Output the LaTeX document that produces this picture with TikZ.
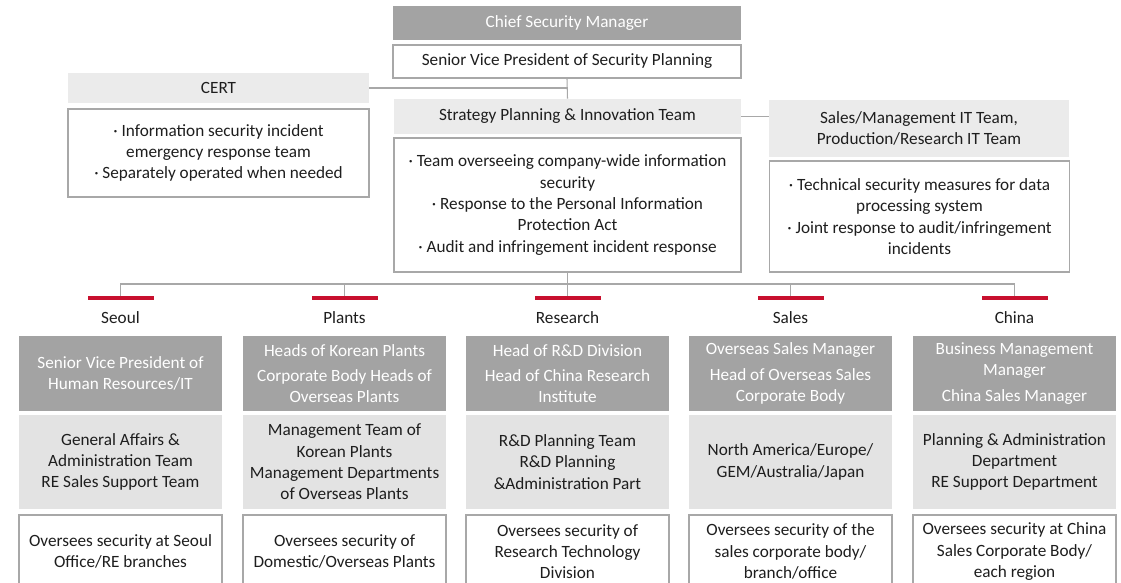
\documentclass[tikz,border=0pt]{standalone}
\usepackage{fontspec}
\setmainfont{Carlito}
\definecolor{darkg}{HTML}{A3A3A3}
\definecolor{lightg}{HTML}{E3E3E3}
\definecolor{headg}{HTML}{EBEBEB}
\definecolor{lineg}{HTML}{A8A8A8}
\definecolor{redbar}{HTML}{C8102E}
\definecolor{txt}{HTML}{1E1E1E}
\begin{document}
\begin{tikzpicture}[x=0.75pt,y=-0.75pt,
  base/.style={inner sep=0pt, align=center, font=\fontsize{12.9}{16}\selectfont, text=txt},
  darkbox/.style={base, fill=darkg, text=white},
  lightbox/.style={base, fill=lightg},
  headbox/.style={base, fill=headg},
  whitebox/.style={base, fill=white, draw=lineg, line width=0.8pt},
  colw/.style={minimum width=152.25pt},
  redmark/.style={fill=redbar, inner sep=0pt, minimum width=49.5pt, minimum height=2.6pt},
  conn/.style={draw=lineg, line width=0.8pt},
  lbl/.style={base}
]
\useasboundingbox (0,0) rectangle (1121,582);
\clip (0,0) rectangle (1121,582);
\fill[white] (0,0) rectangle (1121,582);

% top
\node[darkbox, minimum width=261pt, minimum height=25.5pt] (csm) at (567,23) {Chief Security Manager};
\node[whitebox, minimum width=261pt, minimum height=24.75pt] (svp) at (567,61.5) {Senior Vice President of Security Planning};

\node[headbox, minimum width=225.75pt, minimum height=22.5pt] (certh) at (218.5,88) {CERT};
\node[whitebox, minimum width=225.75pt, minimum height=66pt] (certb) at (218.5,153)
  {· Information security incident\\ emergency response team\\ · Separately operated when needed};

\node[headbox, minimum width=260.25pt, minimum height=26.25pt] (sph) at (567.5,116.5) {Strategy Planning \& Innovation Team};
\node[whitebox, minimum width=260.25pt, minimum height=100.5pt] (spb) at (567.5,205)
  {· Team overseeing company-wide information\\ security\\ · Response to the Personal Information\\ Protection Act\\ · Audit and infringement incident response};

\node[headbox, minimum width=225pt, minimum height=42.75pt] (ith) at (919,128.5) {Sales/Management IT Team,\\ Production/Research IT Team};
\node[whitebox, minimum width=225pt, minimum height=83.25pt] (itb) at (919.5,216.5)
  {· Technical security measures for data\\ processing system\\ · Joint response to audit/infringement\\ incidents};

% top connectors
\draw[conn] (svp.south) -- (sph.north);
\draw[conn] (certh.east) -- (certh.east -| svp.south);
\draw[conn] (sph.east) -- (sph.east -| ith.west);

% columns
\foreach \i/\cx/\lab in {1/120.5/Seoul, 2/344.5/Plants, 3/567.5/Research, 4/790.5/Sales, 5/1014.5/China}{
  \node[redmark] (bar\i) at (\cx,298) {};
  \node[lbl] (lab\i) at (\cx,318) {\lab};
}
\coordinate (busy) at (0,284);
\draw[conn] (spb.south) -- (spb.south |- busy);
\draw[conn] (bar1.north) -- (bar1.north |- busy) -- (bar5.north |- busy) -- (bar5.north);
\foreach \i in {2,3,4}{ \draw[conn] (bar\i.north) -- (bar\i.north |- busy); }

% dark boxes
\node[darkbox, colw, minimum height=56.25pt] (d1) at (120.5,373.5) {Senior Vice President of\\ Human Resources/IT};
\node[darkbox, colw, minimum height=56.25pt] (d2) at (344.5,373.5) {Heads of Korean Plants\\[3pt] Corporate Body Heads of\\ Overseas Plants};
\node[darkbox, colw, minimum height=56.25pt] (d3) at (567.5,373.5) {Head of R\&D Division\\[3pt] Head of China Research\\ Institute};
\node[darkbox, colw, minimum height=56.25pt] (d4) at (790.5,373.5) {Overseas Sales Manager\\[3pt] Head of Overseas Sales\\ Corporate Body};
\node[darkbox, colw, minimum height=56.25pt] (d5) at (1014.5,373.5) {Business Management\\ Manager\\[3pt] China Sales Manager};

% light boxes
\node[lightbox, colw, minimum height=70.5pt] (l1) at (120.5,462) {General Affairs \&\\ Administration Team\\ RE Sales Support Team};
\node[lightbox, colw, minimum height=70.5pt] (l2) at (344.5,462) {Management Team of\\ Korean Plants\\ Management Departments\\ of Overseas Plants};
\node[lightbox, colw, minimum height=70.5pt] (l3) at (567.5,462) {R\&D Planning Team\\ R\&D Planning\\ \&Administration Part};
\node[lightbox, colw, minimum height=70.5pt] (l4) at (790.5,462) {North America/Europe/\\ GEM/Australia/Japan};
\node[lightbox, colw, minimum height=70.5pt] (l5) at (1014.5,462) {Planning \& Administration\\ Department\\ RE Support Department};

% white boxes
\node[whitebox, colw, minimum height=54.75pt] (w1) at (120.5,551.5) {Oversees security at Seoul\\ Office/RE branches};
\node[whitebox, colw, minimum height=54.75pt] (w2) at (344.5,551.5) {Oversees security of\\ Domestic/Overseas Plants};
\node[whitebox, colw, minimum height=54.75pt] (w3) at (567.5,551.5) {Oversees security of\\ Research Technology\\ Division};
\node[whitebox, colw, minimum height=54.75pt] (w4) at (790.5,551.5) {Oversees security of the\\ sales corporate body/\\ branch/office};
\node[whitebox, colw, minimum height=54.75pt] (w5) at (1014.5,551.5) {Oversees security at China\\ Sales Corporate Body/\\ each region};
\end{tikzpicture}
\end{document}
